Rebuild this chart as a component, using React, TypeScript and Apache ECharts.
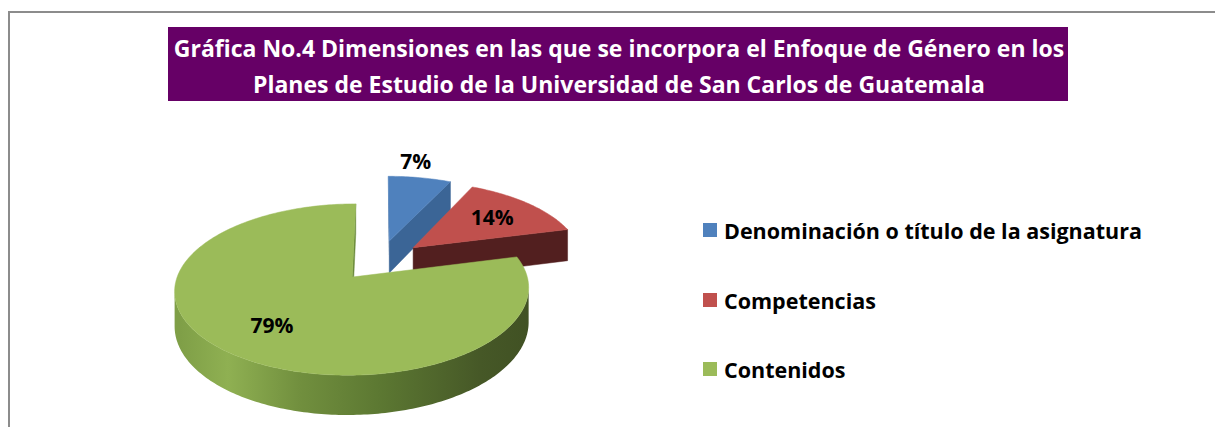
import React, { useEffect, useRef } from "react";
import * as echarts from "echarts";

const TITLE_LINES = [
  "Gráfica No.4 Dimensiones en las que se incorpora el Enfoque de Género en los",
  "Planes de Estudio de la Universidad de San Carlos de Guatemala",
];
const CATEGORIES = [
  "Denominación o título de la asignatura",
  "Competencias",
  "Contenidos",
];
const VALUES = [7, 14, 79];

const TOP_COLORS = ["#4F81BD", "#C0504D", "#9BBB59"];
const CUT_COLORS = ["#3B6596", "#521F1F", "#6B8A3B"];
const WALL_STOPS = [
  [
    [0, "#5b86bb"],
    [1, "#2c4a70"],
  ],
  [
    [0, "#8f3b39"],
    [1, "#4a1c1c"],
  ],
  [
    [0, "#7f9f47"],
    [0.12, "#8fb052"],
    [0.3, "#718f3e"],
    [0.5, "#5c7832"],
    [0.75, "#465827"],
    [1, "#3b4a20"],
  ],
];

const FONT = "Open Sans";
const GEO = { cx: 380, cy: 260.4, r: 170, u: 0.465, d: 1200, h: 33, e: 44 };
const LEGEND_CENTERS = [230, 300, 369];

function proj(x: number, z: number, down: number): number[] {
  const s = GEO.d / (GEO.d + z);
  return [GEO.cx + x * s, GEO.cy + (-z * GEO.u + down) * s];
}

function area(pts: number[][]): number {
  let a = 0;
  for (let i = 0; i < pts.length; i++) {
    const p = pts[i];
    const q = pts[(i + 1) % pts.length];
    a += p[0] * q[1] - q[0] * p[1];
  }
  return a;
}

function makeRenderItem(idx: number) {
  return (params: any, api: any) => {
    const v = api.value(0);
    const total = VALUES.reduce((a, b) => a + b, 0);
    let before = 0;
    for (let j = 0; j < idx; j++) before += VALUES[j];
    const a0 = (before / total) * Math.PI * 2;
    const a1 = a0 + (v / total) * Math.PI * 2;
    const mid = (a0 + a1) / 2;
    const ox = GEO.e * Math.sin(mid);
    const oz = GEO.e * Math.cos(mid);
    const pt = (t: number, rho: number, down: number) =>
      proj(ox + rho * Math.sin(t), oz + rho * Math.cos(t), down);
    const depth = (t: number, rho: number) => oz + rho * Math.cos(t);

    const steps = Math.max(2, Math.ceil((a1 - a0) / (Math.PI / 180)));
    const top: number[][] = [];
    const bot: number[][] = [];
    for (let k = 0; k <= steps; k++) {
      const t = a0 + ((a1 - a0) * k) / steps;
      top.push(pt(t, GEO.r, 0));
      bot.push(pt(t, GEO.r, GEO.h));
    }
    const vTop = pt(0, 0, 0);
    const vBot = pt(0, 0, GEO.h);
    const children: any[] = [];

    children.push({
      type: "polygon",
      shape: { points: [vTop, ...top] },
      style: { fill: TOP_COLORS[idx], stroke: TOP_COLORS[idx], lineWidth: 0.5 },
      z2: 100,
    });

    const startFace = [vTop, top[0], bot[0], vBot];
    if (area(startFace) < 0) {
      children.push({
        type: "polygon",
        shape: { points: startFace },
        style: { fill: CUT_COLORS[idx] },
        z2: 50 - depth(a0, GEO.r / 2) * 0.1,
      });
    }
    const endFace = [vTop, top[steps], bot[steps], vBot];
    if (area(endFace) > 0) {
      children.push({
        type: "polygon",
        shape: { points: endFace },
        style: { fill: CUT_COLORS[idx], stroke: CUT_COLORS[idx], lineWidth: 0.5 },
        z2: 50 - depth(a1, GEO.r / 2) * 0.1,
      });
    }

    const grad = {
      type: "linear",
      x: GEO.cx - GEO.r - 30,
      y: 0,
      x2: GEO.cx + GEO.r + 30,
      y2: 0,
      global: true,
      colorStops: WALL_STOPS[idx].map((s: any) => ({ offset: s[0], color: s[1] })),
    };
    let from = -1;
    const flush = (to: number) => {
      if (from < 0) return;
      const pts = top.slice(from, to + 1).concat(bot.slice(from, to + 1).reverse());
      const tm = a0 + ((a1 - a0) * ((from + to) / 2)) / steps;
      children.push({
        type: "polygon",
        shape: { points: pts },
        style: { fill: grad },
        z2: 50 - depth(tm, GEO.r) * 0.1,
      });
      from = -1;
    };
    for (let k = 0; k < steps; k++) {
      const quad = [top[k], top[k + 1], bot[k + 1], bot[k]];
      const vis = area(quad) < 0;
      if (vis) {
        if (from < 0) from = k;
      } else {
        flush(k);
      }
    }
    flush(steps);

    const share = v / total;
    const outside = share < 0.1;
    const rho = outside ? GEO.r * 1.3 : GEO.r * 0.67;
    const la = outside ? a0 + (a1 - a0) * 0.35 : mid;
    const lp = pt(la, rho, 0);
    children.push({
      type: "text",
      x: lp[0],
      y: lp[1],
      style: {
        text: v + "%",
        fontFamily: FONT,
        fontWeight: "bold",
        fontSize: 21,
        fill: "#000",
        align: "center",
        verticalAlign: "middle",
      },
      z2: 200,
    });

    return { type: "group", children };
  };
}

export default function App() {
  const ref = useRef<HTMLDivElement>(null);
  useEffect(() => {
    if (!ref.current) return;
    const chart = echarts.init(ref.current, undefined, { renderer: "svg" });
    const option: any = {
      animation: false,
      color: TOP_COLORS,
      graphic: [
        {
          type: "line",
          shape: { x1: 8, y1: 12, x2: 1215, y2: 12 },
          style: { stroke: "#8c8c8c", lineWidth: 2 },
        },
        {
          type: "line",
          shape: { x1: 9, y1: 11, x2: 9, y2: 427 },
          style: { stroke: "#8c8c8c", lineWidth: 2 },
        },
        {
          type: "rect",
          shape: { x: 168, y: 27, width: 900, height: 74 },
          style: { fill: "#660066" },
        },
        {
          type: "text",
          x: 619,
          y: 30,
          style: {
            text: TITLE_LINES.join("\n"),
            fontFamily: FONT,
            fontWeight: "bold",
            fontSize: 23,
            lineHeight: 36,
            fill: "#ffffff",
            align: "center",
            verticalAlign: "top",
          },
        },
      ],
      legend: CATEGORIES.map((c, i) => ({
        data: [c],
        left: 703,
        top: LEGEND_CENTERS[i] - 11,
        orient: "vertical",
        icon: "rect",
        itemWidth: 14,
        itemHeight: 14,
        padding: 0,
        selectedMode: false,
        textStyle: {
          fontFamily: FONT,
          fontWeight: "bold",
          fontSize: 21.5,
          color: "#000",
          padding: [0, 0, 0, 2],
        },
      })),
      series: CATEGORIES.map((c, i) => ({
        type: "custom",
        name: c,
        coordinateSystem: "none",
        itemStyle: { color: TOP_COLORS[i] },
        data: [VALUES[i]],
        renderItem: makeRenderItem(i),
      })),
    };
    chart.setOption(option);
    return () => chart.dispose();
  }, []);
  return (
    <div
      ref={ref}
      style={{ position: "fixed", left: 0, top: 0, width: 1215, height: 427, background: "#fff" }}
    />
  );
}
